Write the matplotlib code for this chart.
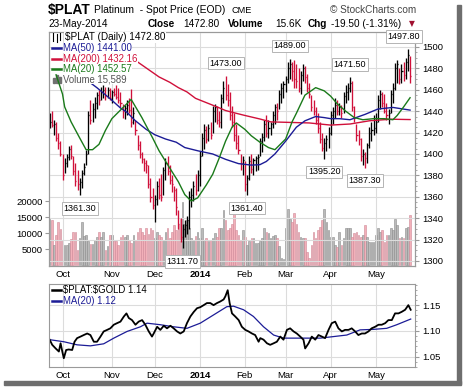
import matplotlib
matplotlib.use('Agg')
import matplotlib.pyplot as plt
import numpy as np
from matplotlib.patches import Rectangle
from matplotlib.lines import Line2D
from matplotlib.ticker import MultipleLocator

plt.rcParams['font.family'] = ['Liberation Sans', 'DejaVu Sans']

W, H = 464, 387

# daily bars, 23-Sep-2013 .. 23-May-2014 (trading day index)
high = [1438, 1440, 1432, 1430, 1420, 1412, 1400, 1396, 1400, 1407,
        1408, 1398, 1392, 1385, 1378, 1385, 1392, 1404, 1440, 1450,
        1448, 1453, 1458, 1460, 1463, 1464, 1463, 1463, 1462, 1460,
        1462, 1464, 1462, 1458, 1447, 1446, 1450, 1452, 1461, 1444,
        1432, 1418, 1412, 1402, 1396, 1394, 1390, 1378, 1368, 1362,
        1375, 1378, 1381, 1388, 1396, 1398, 1390, 1380, 1370, 1368,
        1348, 1340, 1335, 1338, 1342, 1365, 1368, 1375, 1381, 1385,
        1403, 1420, 1428, 1426, 1428, 1430, 1445, 1447, 1445, 1440,
        1456, 1468, 1473, 1465, 1458, 1445, 1438, 1428, 1418, 1400,
        1398, 1393, 1380, 1398, 1400, 1396, 1398, 1400, 1415, 1420,
        1432, 1436, 1432, 1430, 1440, 1447, 1448, 1460, 1466, 1468,
        1473, 1486, 1489, 1486, 1488, 1484, 1480, 1478, 1484, 1482,
        1475, 1466, 1455, 1450, 1444, 1438, 1430, 1420, 1415, 1418,
        1425, 1440, 1444, 1452, 1450, 1448, 1446, 1458, 1464, 1466,
        1471.5, 1468, 1445, 1428, 1422, 1415, 1405, 1402, 1410, 1425,
        1430, 1436, 1438, 1455, 1460, 1458, 1456, 1448, 1442, 1460,
        1466, 1485, 1488, 1480, 1484, 1486, 1490, 1497.8, 1492]
low = [1424, 1425, 1418, 1412, 1405, 1398, 1376, 1382, 1388, 1394,
       1395, 1380, 1370, 1366, 1361.3, 1368, 1380, 1390, 1400, 1428,
       1430, 1434, 1442, 1446, 1450, 1452, 1450, 1452, 1450, 1448,
       1454, 1451, 1448, 1444, 1434, 1433, 1436, 1438, 1425, 1428,
       1418, 1404, 1396, 1392, 1384, 1382, 1368, 1355, 1349, 1336,
       1352, 1358, 1356, 1362, 1376, 1380, 1372, 1364, 1356, 1343,
       1330, 1318, 1311.7, 1322, 1325, 1330, 1350, 1356, 1362, 1365,
       1370, 1398, 1405, 1410, 1412, 1414, 1420, 1430, 1428, 1425,
       1424, 1448, 1450, 1445, 1432, 1425, 1412, 1405, 1400, 1385,
       1380, 1365, 1361.4, 1376, 1382, 1380, 1384, 1385, 1398, 1402,
       1412, 1416, 1415, 1418, 1424, 1428, 1432, 1442, 1448, 1452,
       1458, 1466, 1470, 1468, 1462, 1462, 1458, 1456, 1468, 1466,
       1458, 1452, 1440, 1436, 1428, 1420, 1410, 1403, 1395.2, 1403,
       1406, 1418, 1428, 1434, 1436, 1436, 1434, 1438, 1448, 1450,
       1458, 1440, 1430, 1412, 1408, 1393, 1390, 1387.3, 1392, 1406,
       1412, 1418, 1420, 1430, 1442, 1444, 1438, 1432, 1428, 1438,
       1448, 1460, 1466, 1465, 1466, 1468, 1470, 1478, 1466]
close = [1430, 1427, 1428, 1415, 1410, 1400, 1380, 1392, 1397, 1405,
         1398, 1384, 1375, 1372, 1374, 1382, 1388, 1400, 1436, 1432,
         1442, 1448, 1455, 1450, 1458, 1460, 1454, 1460, 1452, 1458,
         1456, 1453, 1450, 1448, 1440, 1443, 1446, 1441, 1430, 1438,
         1422, 1408, 1400, 1395, 1392, 1390, 1372, 1360, 1352, 1358,
         1370, 1362, 1360, 1385, 1392, 1384, 1376, 1372, 1366, 1350,
         1335, 1322, 1330, 1334, 1338, 1360, 1362, 1370, 1366, 1380,
         1398, 1415, 1422, 1414, 1424, 1418, 1440, 1444, 1432, 1430,
         1452, 1462, 1455, 1450, 1436, 1430, 1418, 1410, 1404, 1392,
         1394, 1372, 1378, 1393, 1386, 1394, 1396, 1397, 1412, 1416,
         1428, 1420, 1424, 1428, 1436, 1444, 1440, 1456, 1462, 1465,
         1470, 1480, 1484, 1478, 1470, 1468, 1462, 1474, 1480, 1472,
         1462, 1456, 1444, 1440, 1432, 1424, 1414, 1406, 1410, 1414,
         1420, 1436, 1440, 1446, 1440, 1444, 1438, 1454, 1458, 1462,
         1466, 1444, 1434, 1418, 1414, 1398, 1400, 1396, 1408, 1420,
         1422, 1424, 1430, 1450, 1456, 1448, 1440, 1436, 1438, 1456,
         1462, 1480, 1484, 1470, 1478, 1474, 1486, 1492.3, 1472.8]
volume = [14400, 14000, 6300, 9300, 13400, 11300, 7900, 6300, 6300, 6900,
          8100, 10500, 10500, 4800, 8400, 13600, 9000, 9500, 7400, 6500,
          6500, 7900, 8700, 10400, 8700, 10500, 4800, 5900, 9500, 9500,
          7600, 7400, 6300, 8700, 9300, 8800, 9500, 7900, 6900, 9500,
          7900, 10500, 11500, 10500, 9500, 11500, 9800, 11500, 11000, 8400,
          10500, 9500, 8800, 8000, 10500, 11500, 8400, 10500, 12600, 11000,
          12600, 14600, 19800, 13000, 14000, 11500, 8400, 7900, 9000, 10500,
          8400, 11500, 7900, 8400, 7400, 8000, 8400, 9900, 8800, 11500,
          11500, 17200, 14100, 11000, 11500, 13000, 16200, 11000, 9400, 7900,
          11000, 8900, 6300, 7400, 8400, 8400, 6900, 6900, 7500, 8400,
          11500, 10500, 9900, 8400, 9000, 9400, 8400, 6000, 2200, 1800,
          11500, 17700, 14600, 13500, 16200, 13000, 10500, 8900, 8400, 8400,
          4200, 2200, 6300, 10500, 8400, 11000, 12000, 14100, 17700, 13500,
          11000, 8900, 8900, 6300, 5800, 10500, 6300, 8400, 11500, 11500,
          11500, 8900, 9900, 10500, 9400, 8900, 9400, 12500, 8900, 7300,
          7300, 7300, 9400, 11500, 10500, 11000, 7300, 9400, 9400, 11500,
          11000, 14400, 12500, 8400, 8900, 8600, 11500, 12000, 15589]

# moving averages (index, value)
ma20_idx = [3, 6, 7, 10, 14, 17, 20, 23, 26, 29, 33, 38, 43, 48, 51, 55, 60, 63, 66, 69,
            73, 76, 79, 82, 85, 87, 91, 94, 98, 102, 105, 110, 113, 115, 119, 124, 128, 131, 134, 138,
            142, 146, 151, 156, 160, 162, 165, 168]
ma20_val = [1474, 1456, 1444, 1430, 1415, 1404, 1404, 1409, 1422, 1433, 1441, 1451, 1434, 1415, 1403, 1390, 1374, 1362, 1356, 1359,
            1371, 1381, 1396, 1412, 1425, 1429, 1423, 1417, 1411, 1406, 1404, 1414, 1430, 1438, 1455, 1462, 1459, 1454, 1447, 1440,
            1434, 1432, 1433, 1433, 1432, 1436, 1444, 1452.57]
ma50_idx = [14, 18, 22, 28, 33, 36, 40, 45, 49, 54, 59, 63, 69, 76, 82, 88, 94, 98, 101, 105,
            110, 115, 119, 124, 128, 131, 135, 140, 147, 153, 160, 168]
ma50_val = [1470, 1468, 1462, 1452, 1443, 1439, 1431, 1423, 1418, 1414, 1411, 1406, 1403, 1400, 1395, 1391, 1389.6, 1390, 1393, 1400,
            1412, 1425, 1431, 1435, 1434, 1433, 1433, 1432, 1437, 1442, 1443.5, 1441]
ma200_idx = [41, 46, 51, 56, 60, 64, 68, 73, 78, 82, 87, 91, 98, 103, 112, 121, 131, 140, 149, 159, 168]
ma200_val = [1486, 1479, 1472, 1467, 1462, 1458, 1452, 1448, 1444, 1440.6, 1438, 1436, 1432.7, 1430, 1429.5, 1429, 1427, 1428, 1431, 1432.5, 1432.16]

# $PLAT:$GOLD ratio
ratio_idx = [0, 1.2, 2.8, 4.3, 5.1, 5.9, 6.6, 7.7, 8.9, 10.5,
             11.6, 12.8, 14.4, 15.9, 17.5, 19.0, 20.6, 22.1, 23.7, 25.2,
             26.8, 28.3, 29.9, 31.4, 33.0, 34.6, 35.8, 36.9, 38.4, 40.0,
             41.5, 43.1, 44.6, 46.2, 47.7, 48.5, 50.1, 51.6, 53.2, 54.7,
             56.3, 57.8, 59.4, 60.9, 62.5, 64.0, 65.6, 67.2, 68.7, 70.2,
             71.8, 73.3, 74.9, 76.4, 78.0, 79.5, 81.1, 81.9, 83.0, 83.9,
             85.0, 86.5, 88.1, 89.6, 91.2, 92.7, 94.3, 95.8, 97.4, 98.2,
             99.7, 101.3, 102.8, 104.4, 105.9, 107.5, 109.0, 110.6, 112.1, 113.7,
             115.2, 116.8, 118.3, 119.1, 120.7, 122.2, 123.8, 125.3, 126.9, 128.4,
             130.0, 131.5, 133.1, 134.6, 136.2, 137.7, 139.3, 140.8, 142.4, 143.9,
             145.5, 147.0, 148.6, 150.1, 151.7, 153.3, 154.8, 156.4, 157.9, 159.5,
             161.0, 162.6, 164.1, 165.7, 167.2, 168.3]
ratio_val = [1.083, 1.073, 1.066, 1.060, 1.076, 1.060, 1.047, 1.063, 1.064, 1.063,
             1.079, 1.086, 1.089, 1.092, 1.095, 1.092, 1.079, 1.079, 1.089, 1.099,
             1.102, 1.105, 1.112, 1.115, 1.118, 1.128, 1.134, 1.125, 1.121, 1.112,
             1.118, 1.121, 1.112, 1.099, 1.089, 1.095, 1.108, 1.102, 1.110, 1.105,
             1.110, 1.105, 1.099, 1.095, 1.099, 1.115, 1.128, 1.137, 1.144, 1.146,
             1.150, 1.154, 1.154, 1.150, 1.154, 1.157, 1.161, 1.167, 1.179, 1.154,
             1.134, 1.128, 1.121, 1.108, 1.102, 1.099, 1.095, 1.092, 1.079, 1.086,
             1.083, 1.076, 1.073, 1.076, 1.079, 1.089, 1.083, 1.102, 1.105, 1.099,
             1.095, 1.089, 1.083, 1.066, 1.076, 1.089, 1.083, 1.092, 1.089, 1.086,
             1.102, 1.115, 1.118, 1.105, 1.099, 1.102, 1.102, 1.105, 1.099, 1.092,
             1.095, 1.095, 1.099, 1.105, 1.108, 1.112, 1.112, 1.115, 1.121, 1.121,
             1.134, 1.134, 1.137, 1.141, 1.150, 1.141]
rma_idx = [0, 6.6, 12.8, 19, 25.2, 29.9, 36.1, 42.3, 45.4, 51.6,
           57.8, 64, 70.2, 76.4, 82.6, 85.7, 90.4, 95, 99.7, 104.4,
           109, 113.7, 119.9, 126.1, 132.3, 138.5, 144.7, 150.9, 157.1, 161.8, 168.3]
rma_val = [1.083, 1.079, 1.073, 1.071, 1.075, 1.086, 1.099, 1.108, 1.115, 1.112,
           1.108, 1.105, 1.115, 1.131, 1.147, 1.148, 1.141, 1.128, 1.108, 1.092,
           1.086, 1.086, 1.086, 1.086, 1.089, 1.092, 1.102, 1.103, 1.105, 1.112, 1.123]

month_idx = [6, 29, 49, 70, 91, 110, 131, 152]
month_lbl = ['Oct', 'Nov', 'Dec', '2014', 'Feb', 'Mar', 'Apr', 'May']

# labelled extremes: (index, price, is_high)
marks = [(14, 1361.30, False), (62, 1311.70, False), (82, 1473.00, True), (92, 1361.40, False),
         (112, 1489.00, True), (128, 1395.20, False), (140, 1471.50, True), (147, 1387.30, False),
         (167, 1497.80, True)]

RED = '#d0103a'
BLUE = '#1c1c96'
GREEN = '#1a7a1a'
GRID = '#dcdcdc'
SPINE = '#9a9a9a'
TXT = 6.8

fig = plt.figure(figsize=(W / 100, H / 100), dpi=100)
fig.patch.set_facecolor('white')


def fx(x):
    return x / W


def fy(y):
    return 1 - y / H


def setup(a):
    for s in a.spines.values():
        s.set_color(SPINE)
        s.set_linewidth(0.8)


ax = fig.add_axes([fx(49), fy(266), 366 / W, 234 / H])
axv = ax.twinx()
ax.set_zorder(axv.get_zorder() + 1)
ax.patch.set_visible(False)

n = len(close)
idx = np.arange(n)
c = np.array(close)
prev = np.r_[c[0], c[:-1]]
cols = np.where(c >= prev, 'black', RED)

# volume
vcols = np.where(c >= prev, '#bababa', '#f2b0b9')
vedge = np.where(c >= prev, '#8c8c8c', '#d08898')
axv.bar(idx, volume, width=0.75, color=vcols, edgecolor=vedge, linewidth=0.4)
axv.set_ylim(-310, 73200)
axv.yaxis.tick_left()
axv.set_yticks([5000, 10000, 15000, 20000])
axv.tick_params(axis='y', labelsize=TXT, length=3, color=SPINE, pad=1.5)
setup(axv)

# price bars
ax.vlines(idx, low, high, colors=cols, linewidth=0.95)
ax.hlines(close, idx, idx + 0.5, colors=cols, linewidth=0.95)
ax.plot(ma200_idx, ma200_val, color=RED, lw=1.0)
ax.plot(ma50_idx, ma50_val, color=BLUE, lw=1.0)
ax.plot(ma20_idx, ma20_val, color=GREEN, lw=1.0)

ax.set_xlim(-0.3, 170.3)
ax.set_ylim(1295.3, 1514)
ax.yaxis.tick_right()
ax.set_yticks(np.arange(1300, 1501, 20))
ax.yaxis.set_minor_locator(MultipleLocator(5))
ax.tick_params(axis='y', which='major', labelsize=TXT, length=3, color=SPINE, pad=2)
ax.tick_params(axis='y', which='minor', length=1.5, color=SPINE)
ax.set_xticks(month_idx)
ax.set_xticklabels(month_lbl)
ax.tick_params(axis='x', length=0, labelsize=TXT, pad=3)
ax.get_xticklabels()[3].set_fontweight('bold')
ax.grid(True, color=GRID, lw=0.8)
setup(ax)

for i, p, hi in marks:
    dx = -3 if i > 160 else 0
    ax.annotate('%.2f' % p, xy=(i, p), xytext=(dx, 6 if hi else -6), textcoords='offset points',
                ha='center', va='bottom' if hi else 'top', fontsize=6.5,
                bbox=dict(boxstyle='square,pad=0.2', fc='white', ec='#b4b4b4', lw=0.7),
                annotation_clip=False, zorder=20)

# legend of main panel (white behind text, like the original)
lbox = dict(boxstyle='square,pad=0.05', fc='white', ec='none')
fig.text(fx(65), fy(37), '\\$PLAT (Daily) 1472.80', fontsize=7.2, va='center', ha='left', bbox=lbox)
fig.add_artist(Line2D([fx(53), fx(53)], [fy(33), fy(41)], color='black', lw=0.8))
fig.add_artist(Line2D([fx(57), fx(57)], [fy(34), fy(42)], color='black', lw=0.8))
fig.add_artist(Line2D([fx(60), fx(60)], [fy(33), fy(40)], color='black', lw=0.8))
leg = [(48, 'MA(50) 1441.00', BLUE), (59, 'MA(200) 1432.16', RED), (69, 'MA(20) 1452.57', GREEN)]
for yy, t, col in leg:
    fig.add_artist(Line2D([fx(52.5), fx(61)], [fy(yy), fy(yy)], color=col, lw=1.8))
    fig.text(fx(63), fy(yy), t, fontsize=6.9, color=col, va='center', ha='left', bbox=lbox)
fig.text(fx(63), fy(79), 'Volume 15,589', fontsize=6.9, color='#555555', va='center', ha='left', bbox=lbox)
for k, hh in enumerate([5, 8, 6]):
    fig.add_artist(Rectangle((fx(53 + k * 3), fy(83)), 2 / W, hh / H, transform=fig.transFigure,
                             color='#707070'))

# ratio panel
axr = fig.add_axes([fx(49), fy(367), 366 / W, 83 / H])
axr.plot(rma_idx, rma_val, color=BLUE, lw=0.9)
axr.plot(ratio_idx, ratio_val, color='black', lw=1.3)
axr.set_xlim(-0.3, 170.3)
axr.set_ylim(1.030, 1.191)
axr.yaxis.tick_right()
axr.set_yticks([1.05, 1.10, 1.15])
axr.set_yticklabels(['1.05', '1.10', '1.15'])
axr.yaxis.set_minor_locator(MultipleLocator(0.01))
axr.tick_params(axis='y', which='major', labelsize=TXT, length=3, color=SPINE, pad=2)
axr.tick_params(axis='y', which='minor', length=1.5, color=SPINE)
axr.set_xticks(month_idx)
axr.set_xticklabels(month_lbl)
axr.tick_params(axis='x', length=0, labelsize=TXT, pad=3)
axr.get_xticklabels()[3].set_fontweight('bold')
axr.grid(True, color=GRID, lw=0.8)
setup(axr)
fig.add_artist(Line2D([fx(52.5), fx(61)], [fy(290), fy(290)], color='black', lw=1.8))
fig.text(fx(63), fy(290), '\\$PLAT:\\$GOLD 1.14', fontsize=6.9, va='center', ha='left')
fig.add_artist(Line2D([fx(52.5), fx(61)], [fy(301), fy(301)], color=BLUE, lw=1.8))
fig.text(fx(63), fy(301), 'MA(20) 1.12', fontsize=6.9, color=BLUE, va='center', ha='left')

# header
fig.text(fx(48), fy(10), '\\$PLAT', fontsize=10, fontweight='bold', va='center', ha='left')
fig.text(fx(94), fy(10), 'Platinum  - Spot Price (EOD)', fontsize=7.4, va='center', ha='left')
fig.text(fx(232), fy(10.5), 'CME', fontsize=6.6, va='center', ha='left')
fig.text(fx(416), fy(10), '\u00a9 StockCharts.com', fontsize=7.2, color='#444444', va='center', ha='right')
fig.text(fx(48), fy(24), '23-May-2014', fontsize=7.2, va='center', ha='left')
parts = [(148, 'Close', True), (183, '1472.80', False), (228, 'Volume', True), (275, '15.6K', False),
         (308, 'Chg', True), (331, '-19.50 (-1.31%)', False)]
for xx, t, b in parts:
    fig.text(fx(xx), fy(24), t, fontsize=7.2, fontweight='bold' if b else 'normal', va='center', ha='left')
fig.text(fx(409), fy(24), '\u25bc', fontsize=5.5, color='#a01030', va='center', ha='left',
         family=['DejaVu Sans'])

# frame shadow
fig.add_artist(Rectangle((fx(457), fy(384)), 4 / W, 379 / H, transform=fig.transFigure, color='#6e6e6e'))
fig.add_artist(Rectangle((fx(4), fy(385)), 457 / W, 4 / H, transform=fig.transFigure, color='#6e6e6e'))

fig.savefig('out.png', dpi=100)
